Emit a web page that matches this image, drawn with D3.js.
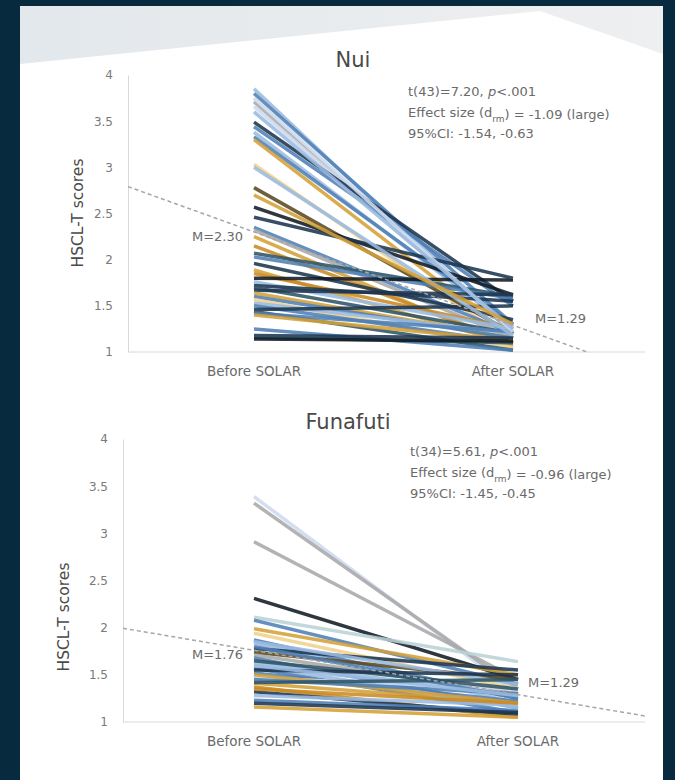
<!DOCTYPE html>
<html>
<head>
<meta charset="utf-8">
<script src="https://cdn.jsdelivr.net/npm/d3@7"></script>
<style>
  html, body { margin: 0; padding: 0; background: #072a3e; }
  svg { display: block; font-family: "DejaVu Sans", Verdana, sans-serif; }
</style>
</head>
<body>
<div id="chart"></div>
<script>
// time points
const phases = ["Before SOLAR", "After SOLAR"];
const yTicks = [1, 1.5, 2, 2.5, 3, 3.5, 4];

// Nui, n = 44
const nuiBefore = [3.85, 3.80, 3.71, 3.66, 3.49, 3.44, 3.38, 3.33, 3.30, 3.03,
  2.78, 2.57, 2.46, 2.35, 2.32, 2.25, 2.15, 2.07, 2.03, 1.96,
  1.89, 1.85, 1.80, 1.76, 1.72, 1.70, 1.67, 1.64, 1.60, 1.57,
  1.53, 1.50, 1.46, 1.44, 1.42, 1.40, 3.75, 3.60, 3.00, 2.70,
  1.25, 1.18, 1.16, 1.14];
const nuiAfter = [1.20, 1.30, 1.20, 1.25, 1.55, 1.50, 1.25, 1.30, 1.15, 1.10,
  1.20, 1.62, 1.80, 1.20, 1.15, 1.05, 1.10, 1.60, 1.58, 1.35,
  1.08, 1.25, 1.78, 1.25, 1.55, 1.20, 1.62, 1.15, 1.15, 1.05,
  1.20, 1.10, 1.50, 1.02, 1.22, 1.12, 1.22, 1.25, 1.18, 1.30,
  1.02, 1.15, 1.10, 1.12];
const nuiTone = ["light", "steel", "gray", "pale", "navy", "steel", "light", "steel", "gold", "yellow",
  "olive", "black", "navy", "steel", "gray", "gold", "orange", "teal", "steel", "navy",
  "gold", "orange", "black", "light", "navy", "teal", "navy", "gold", "steel", "yellow",
  "light", "steel", "navy", "teal", "steel", "gold", "pale", "light", "light", "gold",
  "steel", "navy", "teal", "black"];
const nuiStats = ["t(43)=7.20, ", "-1.09 (large)", "95%CI: -1.54, -0.63"];
const nuiMeans = [2.30, 1.29];

// Funafuti, n = 35
const funBefore = [3.39, 3.32, 2.91, 2.31, 2.11, 2.08, 1.99, 1.94, 1.87, 1.84,
  1.78, 1.74, 1.71, 1.68, 1.63, 1.57, 1.52, 1.47, 1.41, 1.37,
  1.32, 1.28, 1.23, 1.20, 1.16, 1.85, 1.80, 1.65, 1.60, 1.55,
  1.50, 1.45, 1.60, 1.42, 1.35];
const funAfter = [1.30, 1.35, 1.45, 1.45, 1.64, 1.40, 1.50, 1.35, 1.25, 1.20,
  1.55, 1.45, 1.30, 1.15, 1.28, 1.10, 1.22, 1.35, 1.20, 1.05,
  1.08, 1.18, 1.12, 1.10, 1.05, 1.40, 1.25, 1.35, 1.15, 1.50,
  1.20, 1.30, 1.28, 1.45, 1.20];
const funTone = ["pale", "gray", "gray", "black", "mint", "steel", "gold", "yellow", "steel", "light",
  "navy", "olive", "gray", "steel", "light", "steel", "steel", "pale", "gold", "orange",
  "navy", "light", "steel", "navy", "gold", "light", "steel", "teal", "light", "navy",
  "gold", "steel", "light", "teal", "orange"];
const funStats = ["t(34)=5.61, ", "-0.96 (large)", "95%CI: -1.45, -0.45"];
const funMeans = [1.76, 1.29];

const tones = ["light", "steel", "gray", "pale", "navy", "black", "gold", "yellow", "olive", "orange", "teal", "mint"];
const toneColor = d3.scaleOrdinal()
  .domain(tones)
  .range(["#9bbbe0", "#4f7fb5", "#a9a9a9", "#cddbee", "#1c3550", "#111a24",
          "#d4a038", "#efd18c", "#5b4a22", "#c98a24", "#2d5466", "#b9d3d6"]);

const W = 675, H = 780;
const svg = d3.select("#chart").append("svg")
  .attr("width", W).attr("height", H);

// backdrop
const defs = svg.append("defs");
const grad = defs.append("linearGradient").attr("id", "topfade")
  .attr("x1", "0").attr("x2", "1").attr("y1", "0").attr("y2", "0");
grad.append("stop").attr("offset", "0").attr("stop-color", "#e3e8ec");
grad.append("stop").attr("offset", "1").attr("stop-color", "#eeeff0");

svg.append("rect").attr("width", W).attr("height", H).attr("fill", "#072a3e");
svg.append("rect").attr("x", 20).attr("y", 6).attr("width", 643).attr("height", H - 6)
  .attr("fill", "#ffffff");
svg.append("path")
  .attr("d", "M20,6 L663,6 L663,54 L540,11 L20,64 Z")
  .attr("fill", "url(#topfade)");

const panels = [
  { name: "Nui", before: nuiBefore, after: nuiAfter, tone: nuiTone, stats: nuiStats, means: nuiMeans,
    top: 75, bottom: 352, axisX: 128, xB: 254, xA: 513, titleY: 60, titleX: 353,
    yTitleX: 78, yTitleY: 213, statsX: 408, statsY: 91, mAfterDx: 22, mAfterDy: -7 },
  { name: "Funafuti", before: funBefore, after: funAfter, tone: funTone, stats: funStats, means: funMeans,
    top: 439, bottom: 722, axisX: 123, xB: 254, xA: 518, titleY: 422, titleX: 348,
    yTitleX: 64, yTitleY: 617, statsX: 410, statsY: 451, mAfterDx: 10, mAfterDy: -12 }
];

panels.forEach(p => {
  const g = svg.append("g");
  const x = d3.scalePoint().domain(phases).range([p.xB, p.xA]);
  const y = d3.scaleLinear().domain([1, 4]).range([p.bottom, p.top]);

  // title
  g.append("text").attr("x", p.titleX).attr("y", p.titleY).attr("dy", "0.35em")
    .attr("text-anchor", "middle").attr("font-size", 21).attr("fill", "#4a4a4a")
    .text(p.name);

  // y axis
  const yAxis = g.append("g").attr("transform", `translate(${p.axisX},0)`)
    .call(d3.axisLeft(y).tickValues(yTicks).tickSize(0).tickPadding(15)
      .tickFormat(d3.format("")));
  yAxis.select(".domain").attr("stroke", "#d9d9d9");
  yAxis.selectAll("text").attr("font-size", 12).attr("fill", "#7a7a7a")
    .attr("font-family", "DejaVu Sans, Verdana, sans-serif");

  // x baseline
  g.append("line").attr("x1", p.axisX).attr("x2", 645)
    .attr("y1", y(1)).attr("y2", y(1)).attr("stroke", "#d9d9d9");

  phases.forEach(ph => {
    g.append("text").attr("x", x(ph)).attr("y", y(1) + 19).attr("dy", "0.35em")
      .attr("text-anchor", "middle").attr("font-size", 13.5).attr("fill", "#6a6a6a")
      .text(ph);
  });

  g.append("text")
    .attr("transform", `translate(${p.yTitleX},${p.yTitleY}) rotate(-90)`)
    .attr("dy", "0.35em").attr("text-anchor", "middle")
    .attr("font-size", 15.5).attr("fill", "#4a4a4a")
    .text("HSCL-T scores");

  // individual slopes
  const rows = p.before.map((b, i) => ({ b, a: p.after[i], tone: p.tone[i] }));
  g.append("g").selectAll("line").data(rows).join("line")
    .attr("x1", x(phases[0])).attr("x2", x(phases[1]))
    .attr("y1", d => y(d.b)).attr("y2", d => y(d.a))
    .attr("stroke", d => toneColor(d.tone))
    .attr("stroke-width", 3.5).attr("stroke-opacity", 0.88)
    .attr("stroke-linecap", "butt");

  // dashed trend through the means
  const [mB, mA] = p.means;
  const slope = (mA - mB) / (x(phases[1]) - x(phases[0]));
  const v = px => mB + slope * (px - x(phases[0]));
  const xEnd = Math.min(645, x(phases[0]) + (1 - mB) / slope);
  g.append("line")
    .attr("x1", p.axisX).attr("y1", y(v(p.axisX)))
    .attr("x2", xEnd).attr("y2", y(v(xEnd)))
    .attr("stroke", "#a6a6a6").attr("stroke-width", 1.5)
    .attr("stroke-dasharray", "4,3");

  g.append("text").attr("x", x(phases[0]) - 11).attr("y", y(mB) + 4).attr("dy", "0.35em")
    .attr("text-anchor", "end").attr("font-size", 13).attr("fill", "#6a6a6a")
    .text("M=" + mB.toFixed(2));
  g.append("text").attr("x", x(phases[1]) + p.mAfterDx).attr("y", y(mA) + p.mAfterDy).attr("dy", "0.35em")
    .attr("font-size", 13).attr("fill", "#6a6a6a")
    .text("M=" + mA.toFixed(2));

  // test statistics
  const st = g.append("g").attr("font-size", 13).attr("fill", "#6a6a6a");
  const l1 = st.append("text").attr("x", p.statsX).attr("y", p.statsY).attr("dy", "0.35em");
  l1.append("tspan").text(p.stats[0]);
  l1.append("tspan").attr("font-style", "italic").text("p");
  l1.append("tspan").text("<.001");
  const l2 = st.append("text").attr("x", p.statsX).attr("y", p.statsY + 21).attr("dy", "0.35em");
  l2.append("tspan").text("Effect size (d");
  l2.append("tspan").attr("font-size", 9).attr("dy", "0.55em").text("rm");
  l2.append("tspan").attr("dy", "-0.2em").text(") = " + p.stats[1]);
  st.append("text").attr("x", p.statsX).attr("y", p.statsY + 42).attr("dy", "0.35em")
    .text(p.stats[2]);
});
</script>
</body>
</html>
